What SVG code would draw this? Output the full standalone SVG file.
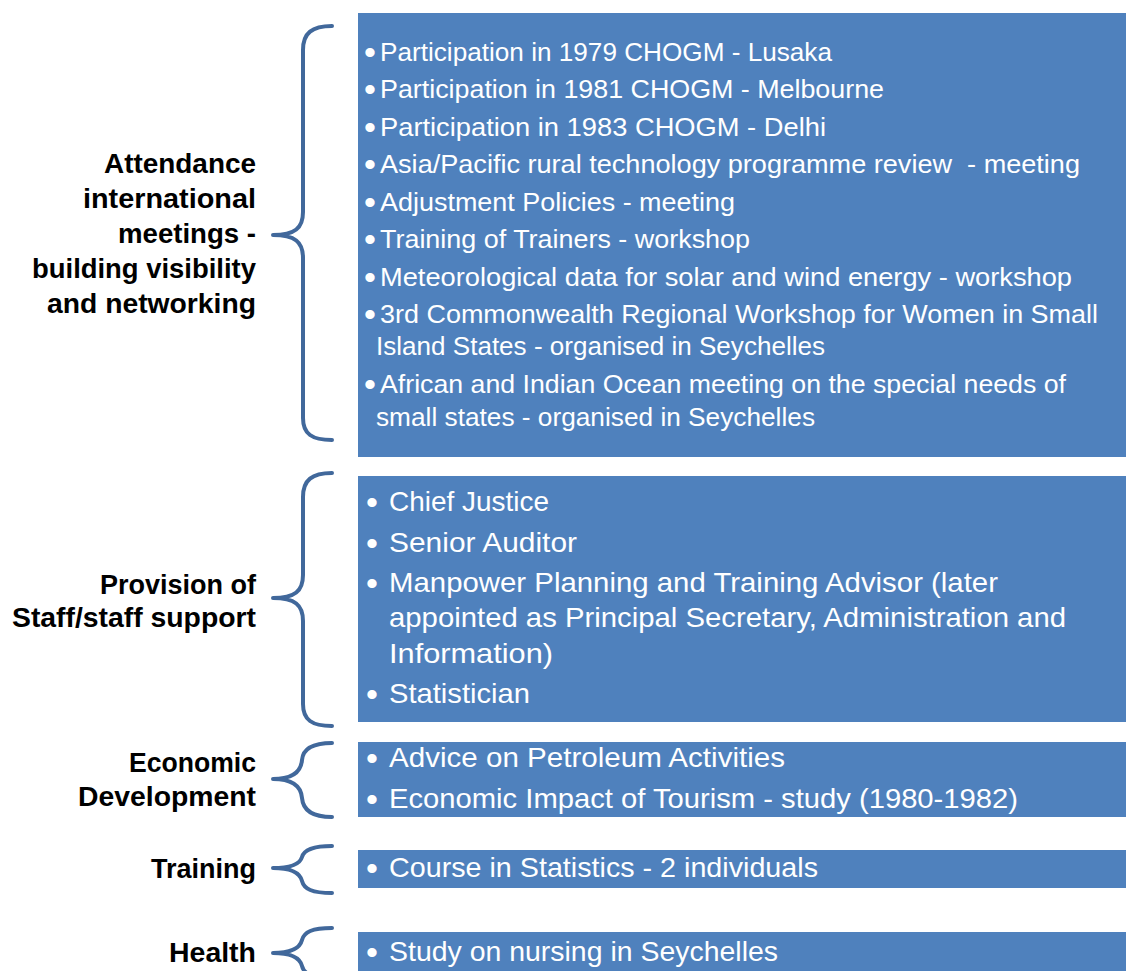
<svg xmlns="http://www.w3.org/2000/svg" width="1126" height="971" viewBox="0 0 1126 971">
<style>
.box{fill:#4f81bd}
.brace{fill:none;stroke:#41689b;stroke-width:4;stroke-linecap:round;stroke-linejoin:round}
.lbl{font-family:"Liberation Sans",Arial,sans-serif;font-weight:bold;font-size:27px;fill:#000;text-anchor:end}
.t1{font-family:"Liberation Sans",Arial,sans-serif;font-size:26px;fill:#fff}
.t2{font-family:"Liberation Sans",Arial,sans-serif;font-size:28px;fill:#fff}
.b{font-family:"Liberation Sans",Arial,sans-serif;font-size:34px;fill:#fff}
</style>
<rect width="1126" height="971" fill="#fff"/>
<g id="connectors">
<path class="brace" d="M332,26 C312,26 303,33 303,50 L303,212 C303,228 295,235 273,235 C295,235 303,242 303,258 L303,418 C303,434 312,440 332,440"/>
<path class="brace" d="M332,473 C312,473 303,480 303,497 L303,575 C303,591 295,598 273,598 C295,598 303,605 303,621 L303,704 C303,720 312,726 332,726"/>
<path class="brace" d="M332,743 C312,743 303,749 302,760 C301,772 292,779 273,779 C292,779 301,786 302,798 C303,810 312,817 332,817"/>
<path class="brace" d="M332,846 C312,846 304,850 302,857 C300,864 292,868 273,868 C292,868 300,873 302,881 C304,889 312,893 332,893"/>
<path class="brace" d="M332,928 C312,928 304,932 302,940 C300,948 292,953 273,953 C292,953 300,958 302,966 C304,974 312,978 332,978"/>
</g>
<g id="node-attendance">
<text class="lbl" x="256" y="173" textLength="152" lengthAdjust="spacingAndGlyphs">Attendance</text>
<text class="lbl" x="256" y="208" textLength="173" lengthAdjust="spacingAndGlyphs">international</text>
<text class="lbl" x="256" y="243" textLength="138" lengthAdjust="spacingAndGlyphs">meetings -</text>
<text class="lbl" x="256" y="278" textLength="224" lengthAdjust="spacingAndGlyphs">building visibility</text>
<text class="lbl" x="256" y="313" textLength="209" lengthAdjust="spacingAndGlyphs">and networking</text>
<rect class="box" x="358" y="13" width="768" height="444"/>
<g class="b">
<text x="364" y="64">•</text><text x="364" y="101">•</text><text x="364" y="139">•</text><text x="364" y="176">•</text><text x="364" y="214">•</text><text x="364" y="251">•</text><text x="364" y="289">•</text><text x="364" y="326">•</text><text x="364" y="396">•</text>
</g>
<g class="t1">
<text x="380" y="61" textLength="452" lengthAdjust="spacingAndGlyphs">Participation in 1979 CHOGM - Lusaka</text>
<text x="380" y="98" textLength="504" lengthAdjust="spacingAndGlyphs">Participation in 1981 CHOGM - Melbourne</text>
<text x="380" y="136" textLength="446" lengthAdjust="spacingAndGlyphs">Participation in 1983 CHOGM - Delhi</text>
<text x="380" y="173" textLength="700" lengthAdjust="spacingAndGlyphs" xml:space="preserve">Asia/Pacific rural technology programme review  - meeting</text>
<text x="380" y="211" textLength="355" lengthAdjust="spacingAndGlyphs">Adjustment Policies - meeting</text>
<text x="380" y="248" textLength="370" lengthAdjust="spacingAndGlyphs">Training of Trainers - workshop</text>
<text x="380" y="286" textLength="692" lengthAdjust="spacingAndGlyphs">Meteorological data for solar and wind energy - workshop</text>
<text x="380" y="323" textLength="718" lengthAdjust="spacingAndGlyphs">3rd Commonwealth Regional Workshop for Women in Small</text>
<text x="376" y="355" textLength="449" lengthAdjust="spacingAndGlyphs">Island States - organised in Seychelles</text>
<text x="380" y="393" textLength="686" lengthAdjust="spacingAndGlyphs">African and Indian Ocean meeting on the special needs of</text>
<text x="376" y="426" textLength="439" lengthAdjust="spacingAndGlyphs">small states - organised in Seychelles</text>
</g>
</g>
<g id="node-staff">
<text class="lbl" x="256" y="594" textLength="156" lengthAdjust="spacingAndGlyphs">Provision of</text>
<text class="lbl" x="256" y="627" textLength="244" lengthAdjust="spacingAndGlyphs">Staff/staff support</text>
<rect class="box" x="358" y="476" width="768" height="246"/>
<g class="b">
<text x="366" y="514">•</text><text x="366" y="555">•</text><text x="366" y="595">•</text><text x="366" y="706">•</text>
</g>
<g class="t2">
<text x="389" y="511" textLength="160" lengthAdjust="spacingAndGlyphs">Chief Justice</text>
<text x="389" y="552" textLength="188" lengthAdjust="spacingAndGlyphs">Senior Auditor</text>
<text x="389" y="592" textLength="609" lengthAdjust="spacingAndGlyphs">Manpower Planning and Training Advisor (later</text>
<text x="389" y="627" textLength="677" lengthAdjust="spacingAndGlyphs">appointed as Principal Secretary, Administration and</text>
<text x="389" y="663" textLength="164" lengthAdjust="spacingAndGlyphs">Information)</text>
<text x="389" y="703" textLength="141" lengthAdjust="spacingAndGlyphs">Statistician</text>
</g>
</g>
<g id="node-economic">
<text class="lbl" x="256" y="772" textLength="127" lengthAdjust="spacingAndGlyphs">Economic</text>
<text class="lbl" x="256" y="806" textLength="178" lengthAdjust="spacingAndGlyphs">Development</text>
<rect class="box" x="358" y="742" width="768" height="75"/>
<g class="b">
<text x="366" y="770">•</text><text x="366" y="811">•</text>
</g>
<g class="t2">
<text x="389" y="767" textLength="396" lengthAdjust="spacingAndGlyphs">Advice on Petroleum Activities</text>
<text x="389" y="808" textLength="629" lengthAdjust="spacingAndGlyphs">Economic Impact of Tourism - study (1980-1982)</text>
</g>
</g>
<g id="node-training">
<text class="lbl" x="256" y="878" textLength="105" lengthAdjust="spacingAndGlyphs">Training</text>
<rect class="box" x="358" y="850" width="768" height="38"/>
<text class="b" x="366" y="880">•</text>
<text class="t2" x="389" y="877" textLength="429" lengthAdjust="spacingAndGlyphs">Course in Statistics - 2 individuals</text>
</g>
<g id="node-health">
<text class="lbl" x="256" y="962" textLength="87" lengthAdjust="spacingAndGlyphs">Health</text>
<rect class="box" x="358" y="932" width="768" height="45"/>
<text class="b" x="366" y="964">•</text>
<text class="t2" x="389" y="961" textLength="389" lengthAdjust="spacingAndGlyphs">Study on nursing in Seychelles</text>
</g>
</svg>
